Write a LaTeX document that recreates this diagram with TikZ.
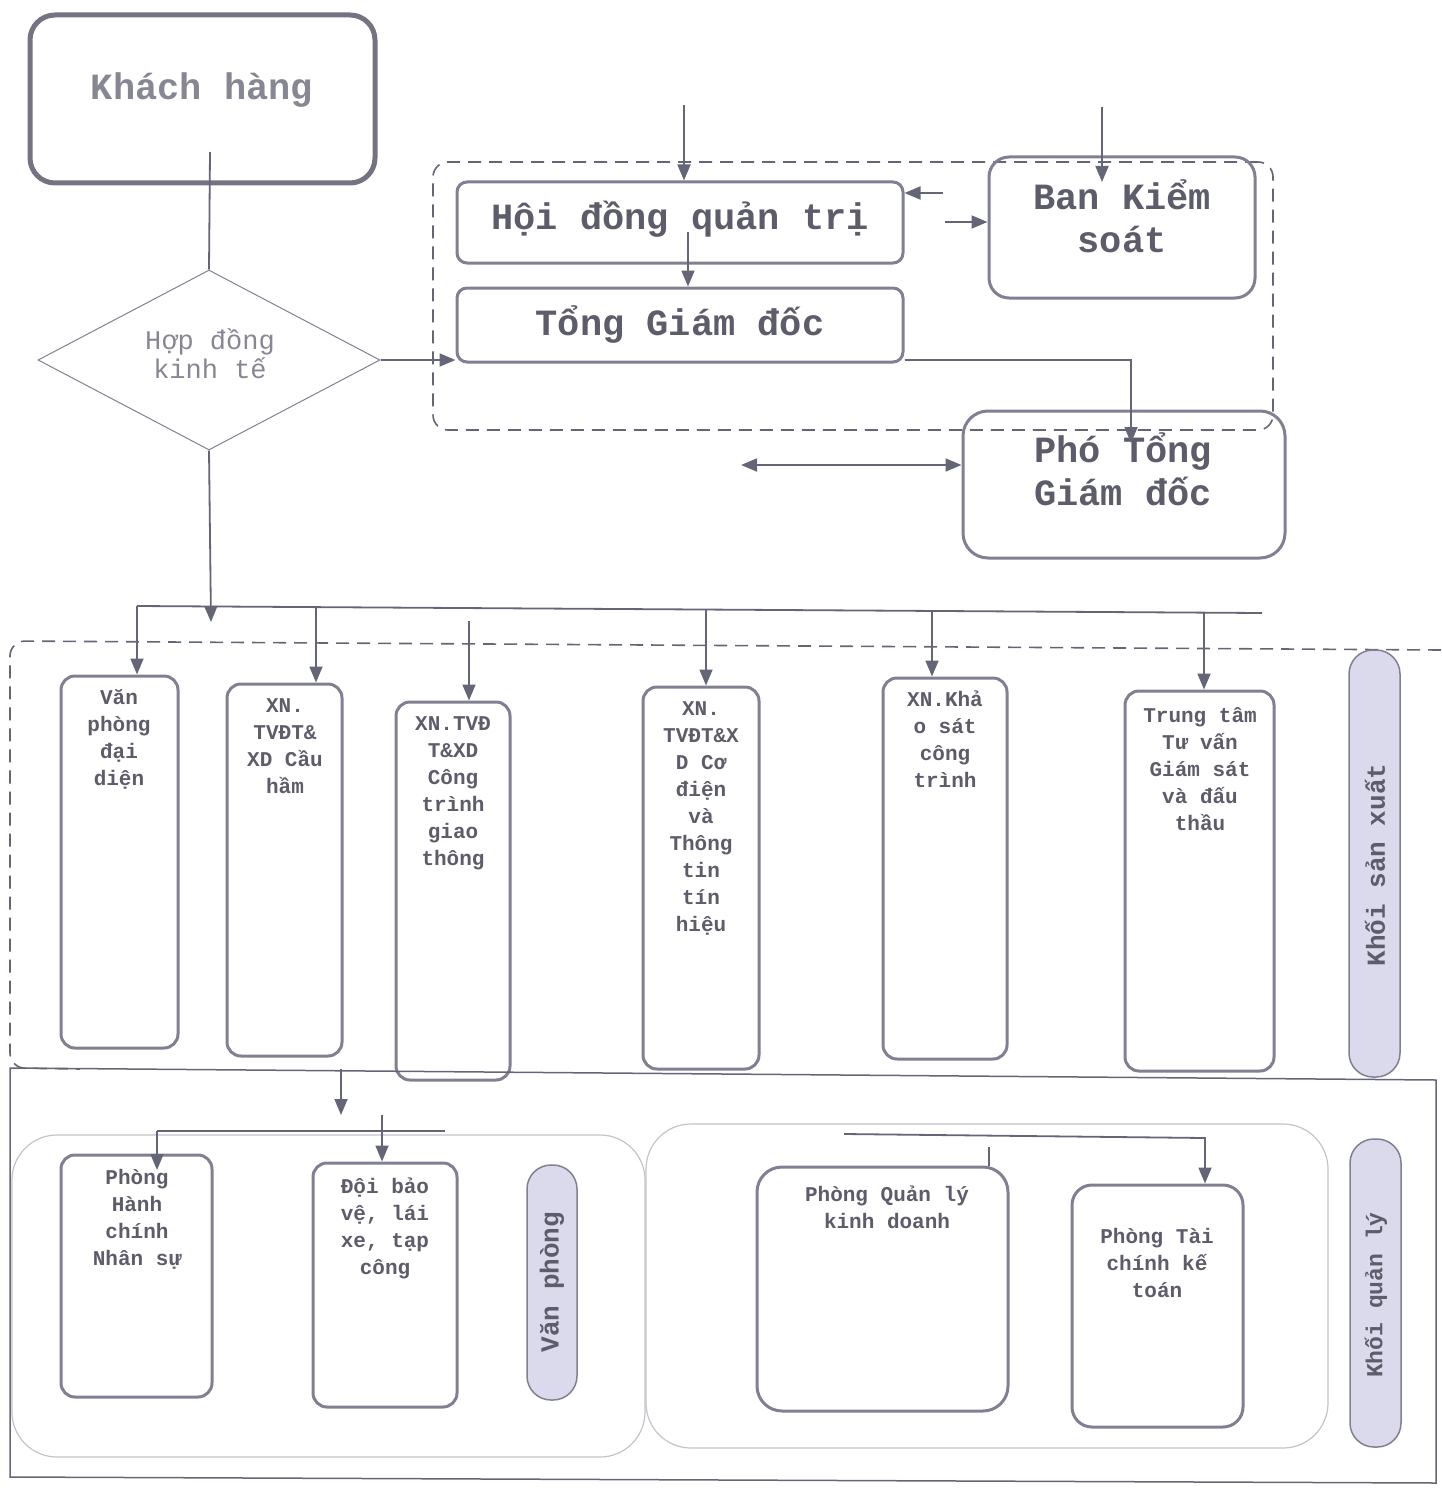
\documentclass[tikz,border=0pt]{standalone}
\usepackage{fontspec}
\setmainfont{Liberation Mono}
\usetikzlibrary{arrows.meta,shapes.geometric,fit}
\definecolor{boxc}{RGB}{128,128,146}
\definecolor{kbc}{RGB}{115,115,130}
\definecolor{linec}{RGB}{100,102,120}
\definecolor{txtc}{RGB}{92,92,106}
\definecolor{ltxt}{RGB}{135,135,148}
\definecolor{pillc}{RGB}{218,218,236}
\definecolor{faintc}{RGB}{195,195,202}
\newcommand\myfs[2]{\fontsize{#1}{#2}\selectfont}
\begin{document}
\begin{tikzpicture}[x=1pt,y=-1pt,
  box/.style={draw=boxc,line width=3pt,rounded corners=14pt,inner sep=0pt},
  hbox/.style={draw=boxc,line width=3pt,rounded corners=10pt,inner sep=0pt},
  kbox/.style={draw=kbc,line width=5pt,rounded corners=25pt,inner sep=0pt},
  lbl/.style={text=txtc,font=\bfseries\myfs{21}{27},align=center,anchor=north,inner sep=0pt,execute at begin node={\rule{0pt}{22pt}}},
  big/.style={text=txtc,font=\bfseries\myfs{37}{43},align=center,inner sep=0pt},
  arr/.style={draw=linec,line width=1.8pt,-{Triangle[length=16pt,width=13pt]}},
  darr/.style={draw=linec,line width=1.8pt,{Triangle[length=16pt,width=13pt]}-{Triangle[length=16pt,width=13pt]}},
  ln/.style={draw=linec,line width=1.8pt},
  grp/.style={draw=linec,line width=1.6pt,dash pattern=on 13pt off 8pt,rounded corners=15pt,inner sep=0pt},
  faint/.style={draw=faintc,line width=1.2pt,rounded corners=45pt,inner sep=0pt},
  pill/.style={draw=boxc,fill=pillc,line width=1.5pt,rounded corners=24pt,inner sep=0pt},
  ptxt/.style={text=txtc,font=\bfseries\myfs{26}{30},rotate=90,inner sep=0pt},
  frame/.style={draw=linec,line width=1.5pt}]
\useasboundingbox (0,0) rectangle (1441,1490);

% ---- top part
\node[kbox,fit={(30,15) (375,183)}] (kh) {};
\node[text=ltxt,font=\bfseries\myfs{37}{43},inner sep=0pt] (khl) at (202,90) {Khách hàng};

\node[draw=boxc,line width=1pt,diamond,minimum width=342pt,minimum height=180pt,inner sep=0pt] (hd) at (209,360) {};
\node[text=ltxt,font=\myfs{27}{29},align=center,inner sep=0pt] (hdl) at (210,354) {Hợp đồng\\kinh tế};

\node[grp,fit={(433,162) (1273,430)}] (g1) {};
\node[hbox,fit={(457,182) (903,263)}] (hdqt) {};
\node[big] (hdqtl) at (680,219) {Hội đồng quản trị};
\node[hbox,fit={(457,288) (903,362)}] (tgd) {};
\node[big] (tgdl) at (680,324) {Tổng Giám đốc};
\node[box,rounded corners=20pt,fit={(989,157) (1255,298)}] (bks) {};
\node[big] (bksl) at (1122,216) {Ban Kiểm\\soát};
\node[box,rounded corners=25pt,fit={(963,411) (1285,558)}] (ptgd) {};
\node[big] (ptgdl) at (1123,469) {Phó Tổng\\Giám đốc};

\coordinate (khs) at (210,152);
\draw[ln] (khs) -- (hd.north);
\draw[arr] (hd.east) -- (hd.east -| tgd.west);
\coordinate (hdin) at (684,105);
\draw[arr] (hdin) -- (hdin |- hdqt.north);
\coordinate (tgin) at (688,232);
\draw[arr] (tgin) -- (tgin |- tgd.north);
\coordinate (bksin) at (1102,107);
\coordinate (bksend) at (1102,182);
\draw[arr] (bksin) -- (bksend);
\coordinate (la) at (943,193);
\draw[arr] (la) -- (la -| hdqt.east);
\coordinate (ra) at (945,222);
\draw[arr] (ra) -- (ra -| bks.west);
\coordinate (tpa) at (1131,360);
\coordinate (tpb) at (1131,443);
\draw[arr] (tgd.east |- tpa) -- (tpa) -- (tpb);
\coordinate (dl) at (741,465);
\draw[darr] (dl) -- (dl -| ptgd.west);

% ---- production block
\draw[grp] (1441,650) -- (10,641) -- (10,1068) -- (80,1069);
\node[box,fit={(61,676) (178,1048)}] (b1) {};
\node[box,fit={(227,684) (342,1056)}] (b2) {};
\node[box,fit={(396,702) (510,1080)}] (b3) {};
\node[box,fit={(643,687) (759,1069)}] (b4) {};
\node[box,fit={(883,678) (1007,1059)}] (b5) {};
\node[box,fit={(1125,691) (1274,1071)}] (b6) {};
\node[lbl] (b1l) at (119,689) {Văn\\phòng\\đại\\diện};
\node[lbl] (b2l) at (285,698) {XN.\\TVĐT\&\\XD Cầu\\hầm};
\node[lbl] (b3l) at (453,716) {XN.TVĐ\\T\&XD\\Công\\trình\\giao\\thông};
\node[lbl] (b4l) at (701,701) {XN.\\TVĐT\&X\\D Cơ\\điện\\và\\Thông\\tin\\tín\\hiệu};
\node[lbl] (b5l) at (945,691) {XN.Khả\\o sát\\công\\trình};
\node[lbl] (b6l) at (1200,707) {Trung tâm\\Tư vấn\\Giám sát\\và đấu\\thầu};
\node[pill,fit={(1349,650) (1400,1077)}] (ksx) {};
\node[ptxt] (ksxl) at (1375,865) {Khối sản xuất};

\coordinate (busa) at (211,622);
\draw[arr] (hd.south) -- (busa);
\coordinate (busl) at (137,606);
\coordinate (busr) at (1262,613);
\draw[ln] (busl) -- (busr);
\coordinate (d1) at (137,606);
\coordinate (d2) at (316,608);
\coordinate (d3) at (469,621);
\coordinate (d4) at (706,610);
\coordinate (d5) at (932,611);
\coordinate (d6) at (1204,612);
\draw[arr] (d1) -- (d1 |- b1.north);
\draw[arr] (d2) -- (d2 |- b2.north);
\draw[arr] (d3) -- (d3 |- b3.north);
\draw[arr] (d4) -- (d4 |- b4.north);
\draw[arr] (d5) -- (d5 |- b5.north);
\draw[arr] (d6) -- (d6 |- b6.north);

% ---- management block
\draw[frame] (10,1068) -- (1436,1080) -- (1436,1483) -- (10,1477) -- cycle;
\node[faint,fit={(12,1135) (645,1457)}] (g2) {};
\node[faint,fit={(646,1124) (1328,1448)}] (g3) {};
\node[box,fit={(61,1155) (212,1397)}] (phc) {};
\node[box,fit={(313,1163) (457,1407)}] (doi) {};
\node[box,rounded corners=25pt,fit={(757,1167) (1008,1411)}] (qlkd) {};
\node[box,rounded corners=20pt,fit={(1072,1185) (1243,1427)}] (tckt) {};
\node[lbl] (phcl) at (137,1169) {Phòng\\Hành\\chính\\Nhân sự};
\node[lbl] (doil) at (385,1178) {Đội bảo\\vệ, lái\\xe, tạp\\công};
\node[lbl] (qlkdl) at (887,1186) {Phòng Quản lý\\kinh doanh};
\node[lbl] (tcktl) at (1157,1228) {Phòng Tài\\chính kế\\toán};
\node[pill,fit={(527,1165) (577,1400)}] (vp) {};
\node[ptxt] (vpl) at (552,1282) {Văn phòng};
\node[pill,fit={(1350,1139) (1401,1447)}] (kql) {};
\node[ptxt,font=\bfseries\myfs{23}{27}] (kqll) at (1376,1295) {Khối quản lý};

\coordinate (m1) at (341,1069);
\coordinate (m1e) at (341,1115);
\draw[arr] (m1) -- (m1e);
\coordinate (m2) at (382,1115);
\draw[arr] (m2) -- (m2 |- doi.north);
\coordinate (hl) at (157,1131);
\coordinate (hr) at (445,1131);
\draw[ln] (hl) -- (hr);
\coordinate (hle) at (157,1170);
\draw[arr] (hl) -- (hle);
\coordinate (ql) at (844,1134);
\coordinate (qr) at (1205,1138);
\draw[arr] (ql) -- (qr) -- (qr |- tckt.north);
\coordinate (tk) at (989,1147);
\draw[ln] (tk) -- (tk |- qlkd.north);
\end{tikzpicture}
\end{document}
